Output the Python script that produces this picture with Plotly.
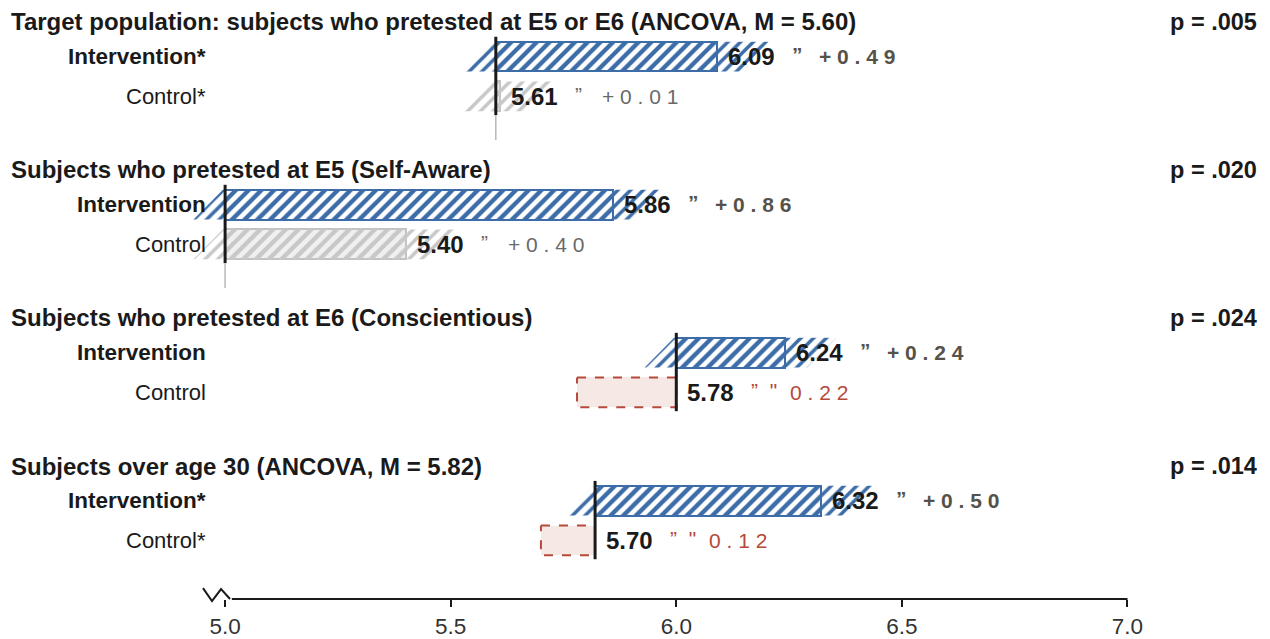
import plotly.graph_objects as go

# ---------------- data ----------------
group_titles = [
    "Target population: subjects who pretested at E5 or E6 (ANCOVA, M = 5.60)",
    "Subjects who pretested at E5 (Self-Aware)",
    "Subjects who pretested at E6 (Conscientious)",
    "Subjects over age 30 (ANCOVA, M = 5.82)",
]
p_values = ["p = .005", "p = .020", "p = .024", "p = .014"]
baselines = [5.60, 5.00, 6.00, 5.82]
int_labels = ["Intervention*", "Intervention", "Intervention", "Intervention*"]
ctrl_labels = ["Control*", "Control", "Control", "Control*"]
int_values = [6.09, 5.86, 6.24, 6.32]
ctrl_values = [5.61, 5.40, 5.78, 5.70]
x_tick_vals = [5.0, 5.5, 6.0, 6.5, 7.0]
x_tick_text = ["5.0", "5.5", "6.0", "6.5", "7.0"]

# ---------------- style / layout ----------------
FONT = "Arial, Liberation Sans, sans-serif"
BLUE = "#3d6da8"
GRAY_HATCH = "#c8c8c8"
GRAY_LINE = "#c3c3c3"
GRAY_BG = "#f0f0f0"
PINK_BG = "#f6e8e5"
RED = "#b5493a"
DARK = "#1a1a1a"
DELTA_DARK = "#56524a"
DELTA_GRAY = "#6a6a6a"

OFF = 8                      # page offset of the figure (body margin)
W, H = 1270 - OFF, 639 - OFF
ML, MR = 181, 138
PW = W - ML - MR
AXIS_Y = 604                 # page y of the axis line
TOP_Y = OFF                  # page y of the plot top
MT, MB = 0, H - (AXIS_Y - OFF)
X_RANGE = [4.92, 7.01]

PITCH = 149.3
TITLE_Y0, INT_Y0, CTRL_Y0 = 22, 57, 97
BAR_W = 30
OVER_L, OVER_R_TOP, OVER_R_BOT = 0.07, 0.115, 0.05


def paper_x(px):
    return (px - OFF - ML) / PW


def paper_y(py):
    return (AXIS_Y - py) / (AXIS_Y - TOP_Y)


def spaced(s):
    return " ".join(list(s))


fig = go.Figure()
shapes = []
annotations = []

for i in range(len(group_titles)):
    ty = TITLE_Y0 + i * PITCH
    iy = INT_Y0 + i * PITCH
    cy = CTRL_Y0 + i * PITCH
    b = baselines[i]
    rows = [
        (iy, int_values[i], True, int_labels[i]),
        (cy, ctrl_values[i], False, ctrl_labels[i]),
    ]
    for (y, v, is_int, lab) in rows:
        d = v - b
        top, bot = y - BAR_W / 2, y + BAR_W / 2
        if d >= 0:
            col = BLUE if is_int else GRAY_HATCH
            # slanted overflow hatch around the bar
            fig.add_trace(go.Scatter(
                x=[b - OVER_L, b - 0.005, v + OVER_R_TOP, v + OVER_R_BOT, b - OVER_L],
                y=[bot, top, top, bot, bot],
                mode="lines", fill="toself", line=dict(width=0),
                fillcolor="rgba(0,0,0,0)",
                fillpattern=dict(shape="/", fgcolor=col, bgcolor="rgba(0,0,0,0)",
                                 size=9, solidity=0.4, fillmode="replace"),
                hoverinfo="skip", showlegend=False))
            fig.add_trace(go.Bar(
                orientation="h", y=[y], x=[d], base=[b], width=BAR_W,
                marker=dict(color="white" if is_int else GRAY_BG,
                            line=dict(width=2, color=BLUE if is_int else GRAY_LINE),
                            pattern=dict(shape="/", fgcolor=col,
                                         bgcolor="white" if is_int else GRAY_BG,
                                         size=9, solidity=0.45, fillmode="replace")),
                hoverinfo="skip", showlegend=False))
        else:
            fig.add_trace(go.Bar(
                orientation="h", y=[y], x=[-d], base=[v], width=BAR_W,
                marker=dict(color=PINK_BG, line=dict(width=0)),
                hoverinfo="skip", showlegend=False))
            fig.add_trace(go.Scatter(
                x=[v, b, b, v, v],
                y=[top, top, bot, bot, top],
                mode="lines", line=dict(color=RED, width=2, dash="dash"),
                hoverinfo="skip", showlegend=False))

        # row label
        annotations.append(dict(
            xref="paper", yref="y", x=paper_x(208), y=y,
            text=f"<b>{lab}</b>" if is_int else lab, showarrow=False,
            xanchor="right", yanchor="middle",
            font=dict(family=FONT, size=22.5 if is_int else 22, color=DARK)))
        # value label
        xa = max(v, b)
        annotations.append(dict(
            xref="x", yref="y", x=xa, y=y, xshift=9, text=f"<b>{v:.2f}</b>",
            showarrow=False, xanchor="left", yanchor="middle",
            font=dict(family=FONT, size=24, color=DARK)))
        # delta
        if d >= 0:
            dcol = DELTA_DARK if is_int else DELTA_GRAY
            glyph = "\u201d"
            num = spaced(f"+{d:.2f}")
            num_shift = 100
        else:
            dcol = RED
            glyph = "\u201d  \""
            num = spaced(f"{-d:.2f}")
            num_shift = 112
        wrap = (lambda t: f"<b>{t}</b>") if is_int else (lambda t: t)
        annotations.append(dict(
            xref="x", yref="y", x=xa, y=y - 2, xshift=73, text=wrap(glyph),
            showarrow=False, xanchor="left", yanchor="middle",
            font=dict(family=FONT, size=21, color=dcol)))
        annotations.append(dict(
            xref="x", yref="y", x=xa, y=y, xshift=num_shift, text=wrap(num),
            showarrow=False, xanchor="left", yanchor="middle",
            font=dict(family=FONT, size=21, color=dcol)))

    # baseline marker
    shapes.append(dict(type="line", xref="x", yref="y", x0=b, x1=b,
                       y0=iy - 20, y1=cy + 19, line=dict(color=DARK, width=3), layer="above"))
    if ctrl_values[i] - b >= 0:
        shapes.append(dict(type="line", xref="x", yref="y", x0=b, x1=b,
                           y0=cy + 19, y1=cy + 44, line=dict(color="#b8b8b8", width=1.5),
                           layer="above"))

    # titles and p-values
    annotations.append(dict(
        xref="paper", yref="y", x=paper_x(9), y=ty, text=f"<b>{group_titles[i]}</b>",
        showarrow=False, xanchor="left", yanchor="middle",
        font=dict(family=FONT, size=24, color=DARK)))
    annotations.append(dict(
        xref="paper", yref="y", x=paper_x(1259), y=ty, text=f"<b>{p_values[i]}</b>",
        showarrow=False, xanchor="right", yanchor="middle",
        font=dict(family=FONT, size=23.5, color=DARK)))

# axis line (after the break) and break symbol
shapes.append(dict(type="line", xref="x", yref="paper", x0=5.015, x1=7.0, y0=0, y1=0,
                   line=dict(color=DARK, width=2)))
brk = [(-0.049, 593), (-0.029, 606), (-0.009, 594), (0.011, 604)]
path = "M " + " L ".join(f"{5.0 + dx},{paper_y(py)}" for dx, py in brk)
shapes.append(dict(type="path", xref="x", yref="paper", path=path,
                   line=dict(color=DARK, width=2)))

fig.update_layout(
    width=W, height=H,
    margin=dict(l=ML, r=MR, t=MT, b=MB, pad=0),
    plot_bgcolor="white", paper_bgcolor="white",
    barmode="overlay", bargap=0,
    showlegend=False,
    shapes=shapes, annotations=annotations,
    xaxis=dict(range=X_RANGE, showgrid=False, zeroline=False, showline=False,
               tickmode="array", tickvals=x_tick_vals, ticktext=x_tick_text,
               ticks="outside", ticklen=7, tickwidth=2, tickcolor=DARK,
               tickfont=dict(family=FONT, size=22.5, color="#333333"), fixedrange=True),
    yaxis=dict(range=[AXIS_Y, TOP_Y], showgrid=False, zeroline=False, showline=False,
               showticklabels=False, ticks="", fixedrange=True),
)

fig.write_html("out.html")
